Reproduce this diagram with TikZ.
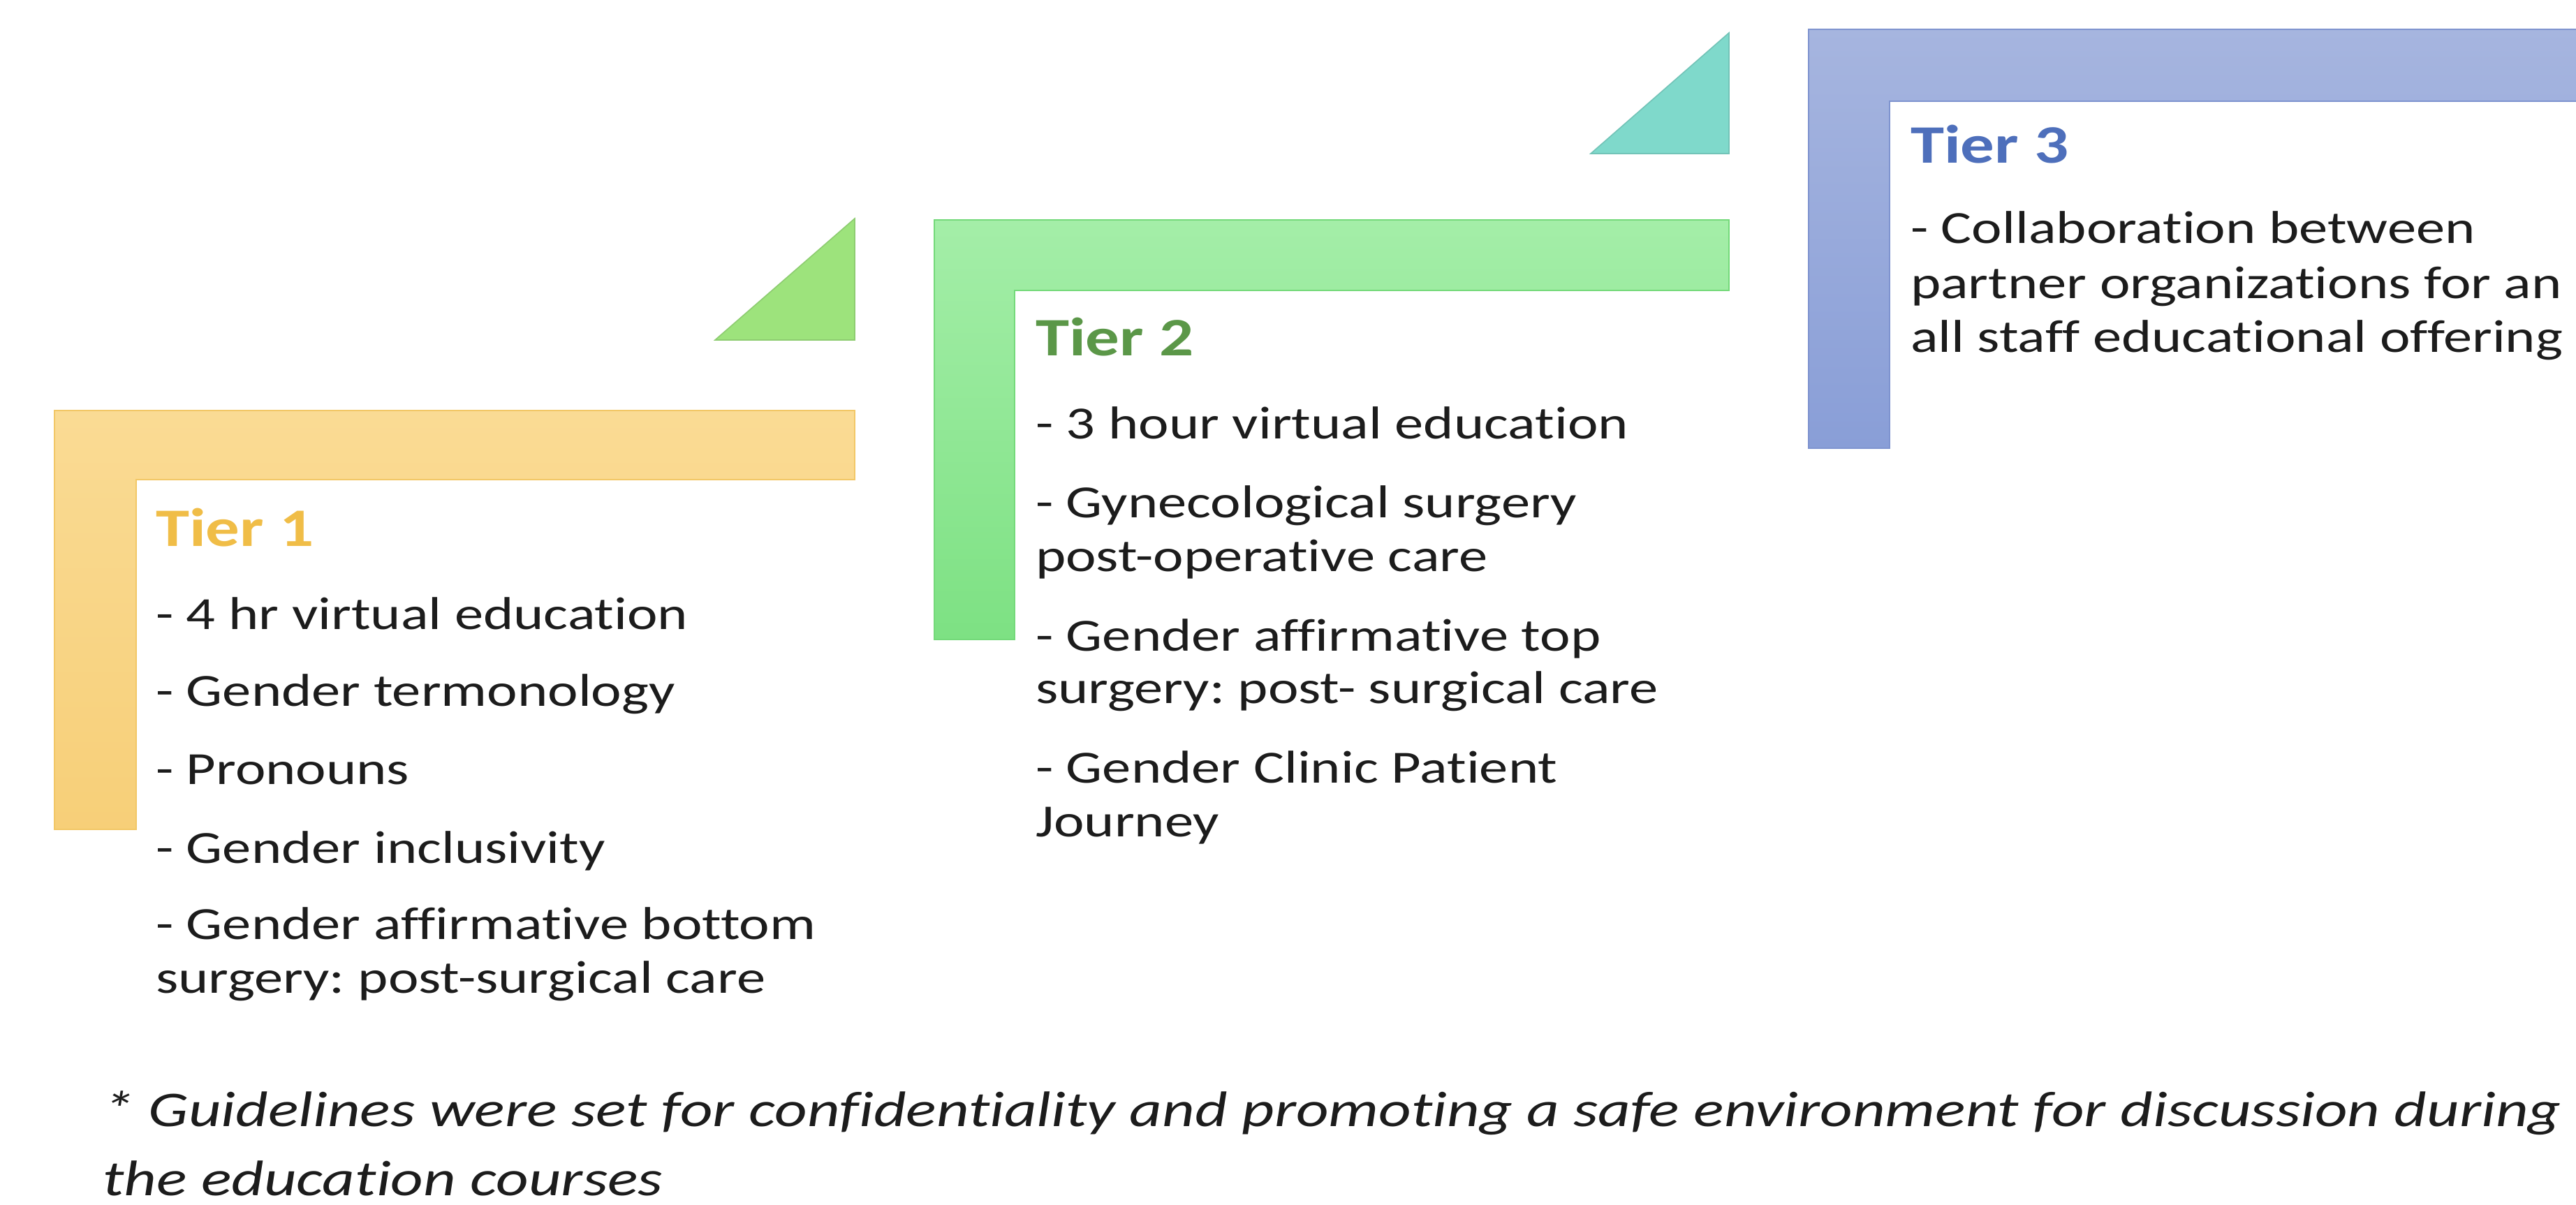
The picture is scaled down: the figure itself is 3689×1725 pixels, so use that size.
\documentclass[tikz,border=0pt]{standalone}
\usepackage{fontspec}
\setmainfont{Carlito}[Ligatures={NoCommon}]
\frenchspacing
\definecolor{txt}{HTML}{1C1C1C}
\definecolor{orA}{HTML}{FADB94}
\definecolor{orB}{HTML}{F7CF78}
\definecolor{orD}{HTML}{F2C766}
\definecolor{orT}{HTML}{F0BD47}
\definecolor{grA}{HTML}{A4EEA8}
\definecolor{grB}{HTML}{7DE183}
\definecolor{grD}{HTML}{74D97A}
\definecolor{grT}{HTML}{5B9748}
\definecolor{trA}{HTML}{9DE37C}
\definecolor{teA}{HTML}{7FD9CB}
\definecolor{blA}{HTML}{A6B5DF}
\definecolor{blB}{HTML}{899ED7}
\definecolor{blD}{HTML}{7E93CF}
\definecolor{blT}{HTML}{4E6FBB}
\tikzset{
  body/.style={anchor=base west, inner sep=0pt, xscale=1.25, text=txt, font=\fontsize{16.5}{19}\selectfont},
  tiertitle/.style={anchor=base west, inner sep=0pt, xscale=1.25, font=\fontsize{19.4}{23}\selectfont\bfseries},
  foot/.style={anchor=base west, inner sep=0pt, xscale=1.268, text=txt, font=\fontsize{17.9}{21}\selectfont\itshape},
}
\begin{document}
\begin{tikzpicture}[x=0.25pt, y=-0.25pt]
\useasboundingbox[fill=white] (0,0) rectangle (3689,1725);
% Tier 1 L-shape
\path[draw=orD, line width=0.6pt, top color=orA, bottom color=orB]
  (78,588) -- (1224,588) -- (1224,687) -- (195,687) -- (195,1188) -- (78,1188) -- cycle;
% Tier 2 L-shape
\path[draw=grD, line width=0.6pt, top color=grA, bottom color=grB]
  (1338,315) -- (2476,315) -- (2476,416) -- (1453,416) -- (1453,916) -- (1338,916) -- cycle;
% Tier 3 L-shape
\path[draw=blD, line width=0.6pt, top color=blA, bottom color=blB]
  (2590,42) -- (3700,42) -- (3700,145) -- (2706,145) -- (2706,642) -- (2590,642) -- cycle;
% triangles
\path[fill=trA, draw=trA!90!black, line width=0.4pt] (1224,313) -- (1224,487) -- (1024,487) -- cycle;
\path[fill=teA, draw=teA!90!black, line width=0.4pt] (2476,47) -- (2476,220) -- (2278,220) -- cycle;

% Tier 1 text
\node[tiertitle, text=orT] (t1) at (222,782) {Tier 1};
\node[body] (t1a) at (222,901) {- 4 hr virtual education};
\node[body] (t1b) at (222,1011) {- Gender termonology};
\node[body] (t1c) at (222,1123) {- Pronouns};
\node[body] (t1d) at (222,1236) {- Gender inclusivity};
\node[body] (t1e) at (222,1345) {- Gender affirmative bottom};
\node[body] (t1f) at (222,1422) {surgery: post-surgical care};

% Tier 2 text
\node[tiertitle, text=grT] (t2) at (1482,509) {Tier 2};
\node[body] (t2a) at (1482,628) {- 3 hour virtual education};
\node[body] (t2b) at (1482,741) {- Gynecological surgery};
\node[body] (t2c) at (1482,818) {post-operative care};
\node[body] (t2d) at (1482,932) {- Gender affirmative top};
\node[body] (t2e) at (1482,1007) {surgery: post- surgical care};
\node[body] (t2f) at (1482,1121) {- Gender Clinic Patient};
\node[body] (t2g) at (1482,1198) {Journey};

% Tier 3 text
\node[tiertitle, text=blT] (t3) at (2735,233) {Tier 3};
\node[body] (t3a) at (2735,348) {- Collaboration between};
\node[body] (t3b) at (2735,427) {partner organizations for an};
\node[body] (t3c) at (2735,504) {all staff educational offering};

% footnote
\node[foot] (f1) at (146,1613) {* Guidelines were set for confidentiality and promoting a safe environment for discussion during};
\node[foot] (f2) at (146,1712) {the education courses};
\end{tikzpicture}
\end{document}
